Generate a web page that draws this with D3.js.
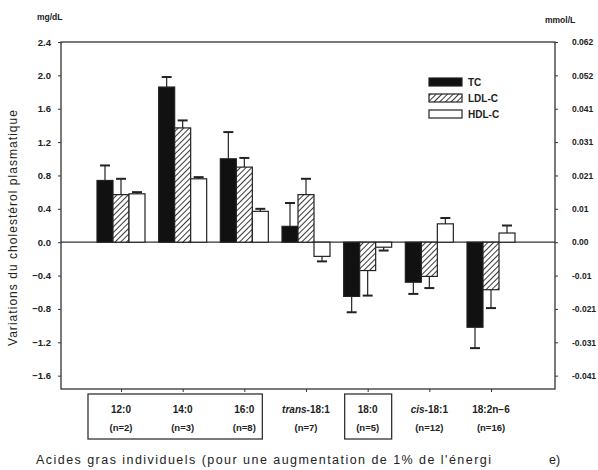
<!DOCTYPE html>
<html>
<head>
<meta charset="utf-8">
<script src="https://cdn.jsdelivr.net/npm/d3@7"></script>
<style>
  body { margin: 0; background: #fff; }
  svg text { font-family: "Liberation Sans", Arial, sans-serif; fill: #222; }
</style>
</head>
<body>
<div id="chart"></div>
<script>
// ---- data (mg/dL change per 1% energy) ----
const categories = ["12:0", "14:0", "16:0", "trans-18:1", "18:0", "cis-18:1", "18:2n-6"];
const catLabels = ["12:0", "14:0", "16:0", "trans-18:1", "18:0", "cis-18:1", "18:2n\u22126"];
const nLabels = ["(n=2)", "(n=3)", "(n=8)", "(n=7)", "(n=5)", "(n=12)", "(n=16)"];
const seriesNames = ["TC", "LDL-C", "HDL-C"];
const tcValues = [0.74, 1.86, 1.00, 0.19, -0.65, -0.48, -1.02];
const tcErrors = [0.18, 0.12, 0.32, 0.28, 0.19, 0.14, 0.25];
const ldlValues = [0.57, 1.37, 0.90, 0.57, -0.34, -0.41, -0.57];
const ldlErrors = [0.19, 0.09, 0.11, 0.19, 0.30, 0.14, 0.22];
const hdlValues = [0.58, 0.76, 0.37, -0.17, -0.06, 0.22, 0.11];
const hdlErrors = [0.02, 0.02, 0.03, 0.06, 0.04, 0.07, 0.09];
const leftTicks = [2.4, 2.0, 1.6, 1.2, 0.8, 0.4, 0.0, -0.4, -0.8, -1.2, -1.6];
const rightTickLabels = ["0.062", "0.052", "0.041", "0.031", "0.021", "0.01", "0.00", "-0.01", "-0.021", "-0.031", "-0.041"];
const boxedGroups = [["12:0", "16:0"], ["18:0", "18:0"]];

const W = 598, H = 470;
const pLeft = 61, pRight = 555, pTop = 42, pBottom = 389;

const svg = d3.select("#chart").append("svg")
    .attr("width", W).attr("height", H);

// hatch pattern for LDL-C
const defs = svg.append("defs");
const pat = defs.append("pattern")
    .attr("id", "hatch").attr("patternUnits", "userSpaceOnUse")
    .attr("width", 4).attr("height", 4)
    .attr("patternTransform", "rotate(45)");
pat.append("rect").attr("width", 4).attr("height", 4).attr("fill", "#fff");
pat.append("line").attr("x1", 0).attr("y1", 0).attr("x2", 0).attr("y2", 4)
    .attr("stroke", "#222").attr("stroke-width", 1.8);

const y = d3.scaleLinear().domain([-1.76, 2.4]).range([pBottom, pTop]);
const x = d3.scalePoint().domain(categories).range([121, 491]);
const barW = 16;
const sub = d3.scaleBand().domain(seriesNames).range([-barW * 1.5, barW * 1.5]);
const fills = { "TC": "#111", "LDL-C": "url(#hatch)", "HDL-C": "#fff" };

const series = [
  { name: "TC", values: tcValues, errs: tcErrors },
  { name: "LDL-C", values: ldlValues, errs: ldlErrors },
  { name: "HDL-C", values: hdlValues, errs: hdlErrors }
];

// frame
svg.append("rect").attr("x", pLeft).attr("y", pTop)
    .attr("width", pRight - pLeft).attr("height", pBottom - pTop)
    .attr("fill", "none").attr("stroke", "#333").attr("stroke-width", 1.3);

// left axis
const yAxisL = d3.axisLeft(y).tickValues(leftTicks).tickSize(3)
    .tickFormat(d3.format(".1f"));
const gL = svg.append("g").attr("transform", `translate(${pLeft},0)`).call(yAxisL);
gL.select(".domain").remove();
gL.selectAll("line").attr("stroke", "#333");
gL.selectAll("text").attr("font-size", 9.5).attr("font-weight", "bold").attr("dx", -4);

// right axis
const yAxisR = d3.axisRight(y).tickValues(leftTicks).tickSize(3)
    .tickFormat((d, i) => rightTickLabels[i]);
const gR = svg.append("g").attr("transform", `translate(${pRight},0)`).call(yAxisR);
gR.select(".domain").remove();
gR.selectAll("line").attr("stroke", "#333");
gR.selectAll("text").attr("font-size", 8.5).attr("font-weight", "bold").attr("dx", 11);

// bottom ticks
const xAxis = d3.axisBottom(x).tickSize(3).tickFormat("");
const gB = svg.append("g").attr("transform", `translate(0,${pBottom})`).call(xAxis);
gB.select(".domain").remove();
gB.selectAll("line").attr("stroke", "#333");

// zero line
svg.append("line").attr("x1", pLeft).attr("x2", pRight)
    .attr("y1", y(0)).attr("y2", y(0)).attr("stroke", "#333").attr("stroke-width", 1.3);

// bars + error bars
series.forEach(s => {
  const g = svg.append("g");
  categories.forEach((c, i) => {
    const v = s.values[i], e = s.errs[i];
    const bx = x(c) + sub(s.name);
    g.append("rect")
        .attr("x", bx).attr("width", barW)
        .attr("y", y(Math.max(0, v)))
        .attr("height", Math.abs(y(v) - y(0)))
        .attr("fill", fills[s.name]).attr("stroke", "#222").attr("stroke-width", 1.2);
    const cx = bx + barW / 2;
    const end = v >= 0 ? v + e : v - e;
    g.append("line").attr("x1", cx).attr("x2", cx)
        .attr("y1", y(v)).attr("y2", y(end)).attr("stroke", "#222").attr("stroke-width", 1.2);
    g.append("line").attr("x1", cx - 5).attr("x2", cx + 5)
        .attr("y1", y(end)).attr("y2", y(end)).attr("stroke", "#222").attr("stroke-width", 2);
  });
});

// legend
const leg = svg.append("g").attr("transform", "translate(429,78)");
seriesNames.forEach((n, i) => {
  leg.append("rect").attr("x", 0).attr("y", i * 16).attr("width", 33).attr("height", 8)
      .attr("fill", fills[n]).attr("stroke", "#222").attr("stroke-width", 1.2);
  leg.append("text").attr("x", 39).attr("y", i * 16 + 8)
      .attr("font-size", 10).attr("font-weight", "bold").text(n);
});

// category labels
categories.forEach((c, i) => {
  const t = svg.append("text").attr("x", x(c)).attr("y", 413)
      .attr("text-anchor", "middle").attr("font-size", 10).attr("font-weight", "bold");
  if (c.startsWith("trans") || c.startsWith("cis")) {
    const pre = c.startsWith("trans") ? "trans" : "cis";
    t.append("tspan").attr("font-style", "italic").text(pre);
    t.append("tspan").text(catLabels[i].slice(pre.length));
  } else {
    t.text(catLabels[i]);
  }
  svg.append("text").attr("x", x(c)).attr("y", 431)
      .attr("text-anchor", "middle").attr("font-size", 9.5).attr("font-weight", "bold")
      .text(nLabels[i]);
});

// boxes around groups
const boxPad = [[33, 18], [23, 24]];
boxedGroups.forEach(([a, b], k) => {
  const x0 = x(a) - boxPad[k][0], x1 = x(b) + boxPad[k][1];
  svg.append("rect").attr("x", x0).attr("y", 394)
      .attr("width", x1 - x0).attr("height", 45)
      .attr("fill", "none").attr("stroke", "#333").attr("stroke-width", 1.3);
});

// axis titles
svg.append("text").attr("x", 37).attr("y", 20)
    .attr("font-size", 8.5).attr("font-weight", "bold").text("mg/dL");
svg.append("text").attr("x", 545).attr("y", 23)
    .attr("font-size", 8.5).attr("font-weight", "bold").text("mmol/L");
svg.append("text")
    .attr("transform", `translate(17,228) rotate(-90)`)
    .attr("text-anchor", "middle").attr("font-size", 12)
    .attr("textLength", 236).attr("lengthAdjust", "spacing")
    .text("Variations du cholestérol plasmatique");
svg.append("text").attr("x", 36).attr("y", 464).attr("font-size", 12.5)
    .attr("textLength", 455).attr("lengthAdjust", "spacing")
    .text("Acides gras individuels (pour une augmentation de 1% de l'énergi");
svg.append("text").attr("x", 549).attr("y", 464).attr("font-size", 12.5).text("e)");
</script>
</body>
</html>
